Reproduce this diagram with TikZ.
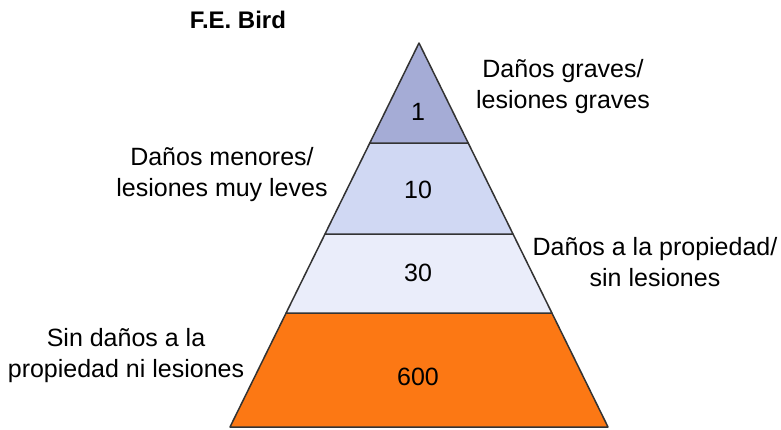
\documentclass[tikz,border=0pt]{standalone}
\usepackage{fontspec}
\setmainfont{Liberation Sans}

\begin{document}
\begin{tikzpicture}[
        x = 1pt, y = -1pt,
        line join=round,
        band/.style = {line width=1.5pt, draw=black!80, fill=#1},
        txt/.style = {align=center, font=\fontsize{25}{31}\selectfont}
    ]

    \useasboundingbox (0,0) rectangle (781,429);

    \definecolor{top}{RGB}{165,172,214}
    \definecolor{upper}{RGB}{208,216,243}
    \definecolor{lower}{RGB}{234,237,250}
    \definecolor{base}{RGB}{252,120,20}

    \coordinate (0) at (419,43);
    \coordinate (1) at (369.8,143);
    \coordinate (2) at (468.2,143);
    \coordinate (3) at (325,234);
    \coordinate (4) at (513,234);
    \coordinate (5) at (286.1,313);
    \coordinate (6) at (551.9,313);
    \coordinate (7) at (230,427);
    \coordinate (8) at (608,427);

    \draw[band=base] (5) -- (6) -- (8) -- (7) -- cycle;
    \draw[band=lower] (3) -- (4) -- (6) -- (5) -- cycle;
    \draw[band=upper] (1) -- (2) -- (4) -- (3) -- cycle;
    \draw[band=top] (0) -- (2) -- (1) -- cycle;

    \node[txt] (n1) at (418,112) {1};
    \node[txt] (n10) at (418,190) {10};
    \node[txt] (n30) at (418,273) {30};
    \node[txt] (n600) at (418,377) {600};

    \node[font=\fontsize{24}{28}\selectfont\bfseries] (title) at (238,20) {F.E. Bird};

    \node[txt] (graves) at (563,87) {Daños graves/\\lesiones graves};
    \node[txt] (menores) at (222,175) {Daños menores/\\lesiones muy leves};
    \node[txt] (propiedad) at (655,262) {Daños a la propiedad/\\sin lesiones};
    \node[txt] (ninguno) at (126,356) {Sin daños a la\\propiedad ni lesiones};
\end{tikzpicture}
\end{document}
